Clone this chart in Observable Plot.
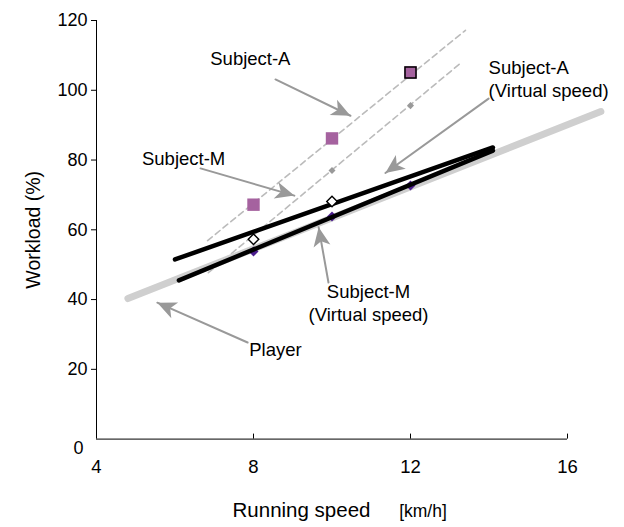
<!DOCTYPE html>
<html>
<head>
<meta charset="utf-8">
<script src="https://cdn.jsdelivr.net/npm/d3@7"></script>
<script src="https://cdn.jsdelivr.net/npm/@observablehq/plot@0.6"></script>
<style>
  body { margin: 0; background: #fff; }
</style>
</head>
<body>
<div id="chart"></div>
<script>
// Measured workload (%) against running speed (km/h)
const subjectASpeeds = [8, 10, 12];
const subjectA = [67.2, 86.2, 105.1];
const subjectAVirtualSpeeds = [10, 12];
const subjectAVirtual = [77.0, 95.6];
const subjectMSpeeds = [8, 10];
const subjectM = [57.3, 68.1];
const subjectMVirtualSpeeds = [8, 10, 12];
const subjectMVirtual = [53.8, 63.8, 72.7];

// Regression lines: [speed, workload] end points
const fitSubjectA = [[6.83, 56.9], [13.4, 117.2]];
const fitSubjectAVirtual = [[6.85, 47.7], [13.3, 108.0]];
const fitPlayer = [[4.8, 40.3], [16.85, 93.9]];
const fitSubjectM = [[6.0, 51.5], [14.1, 83.6]];
const fitSubjectMVirtual = [[6.1, 45.5], [14.1, 82.7]];

// Annotation labels (centred) and the one left-aligned label
const labels = [
  {text: "Subject-A", x: 7.92, y: 109.4},
  {text: "Subject-M", x: 6.22, y: 80.7},
  {text: "Subject-M\n(Virtual speed)", x: 10.93, y: 39.2},
  {text: "Player", x: 8.56, y: 26.0}
];
const labelsLeft = [
  {text: "Subject-A\n(Virtual speed)", x: 13.99, y: 103.4}
];
const pointers = [
  {id: "A", from: [8.56, 103.1], to: [10.47, 92.7]},
  {id: "M", from: [6.65, 77.6], to: [9.04, 69.8]},
  {id: "AV", from: [13.99, 97.6], to: [11.36, 76.3]},
  {id: "MV", from: [9.91, 44.9], to: [9.66, 60.7]},
  {id: "P", from: [7.85, 27.7], to: [5.55, 39.1]}
];

const yTicks = [20, 40, 60, 80, 100, 120];
const xTicks = [4, 8, 12, 16];

const toPoints = (xs, ys) => xs.map((x, i) => ({x, y: ys[i]}));
const toLine = (pts) => pts.map(([x, y]) => ({x, y}));
const pointerPts = pointers.flatMap((p) => [
  {id: p.id, x: p.from[0], y: p.from[1]},
  {id: p.id, x: p.to[0], y: p.to[1]}
]);

// Filled arrowhead with a notched back
function stealth(color, context) {
  const ns = "http://www.w3.org/2000/svg";
  const m = context.document.createElementNS(ns, "marker");
  m.setAttribute("viewBox", "-20 -10 22 20");
  m.setAttribute("refX", "0");
  m.setAttribute("refY", "0");
  m.setAttribute("markerWidth", "22");
  m.setAttribute("markerHeight", "20");
  m.setAttribute("markerUnits", "userSpaceOnUse");
  m.setAttribute("orient", "auto");
  const p = context.document.createElementNS(ns, "path");
  p.setAttribute("d", "M0,0L-19,-8.5L-14,0L-19,8.5Z");
  p.setAttribute("fill", color);
  p.setAttribute("stroke", "none");
  m.appendChild(p);
  return m;
}

const font = "'Liberation Sans', Arial, Helvetica, sans-serif";
const pointColor = "#a5629f";
const diamondColor = "#4a1d8c";

const chart = Plot.plot({
  width: 624,
  height: 527,
  marginLeft: 96,
  marginRight: 57,
  marginTop: 20,
  marginBottom: 88.4,
  x: {domain: [4, 16]},
  y: {domain: [0, 120]},
  style: {fontFamily: font, fontSize: "18px", color: "#000", background: "#fff"},
  marks: [
    // dashed fits for Subject-A
    Plot.line(toLine(fitSubjectA), {x: "x", y: "y", stroke: "#bbb", strokeWidth: 1.6, strokeDasharray: "6,4"}),
    Plot.line(toLine(fitSubjectAVirtual), {x: "x", y: "y", stroke: "#bbb", strokeWidth: 1.6, strokeDasharray: "6,4"}),
    // player fit
    Plot.line(toLine(fitPlayer), {x: "x", y: "y", stroke: "#cfcfcf", strokeWidth: 7}),
    // points
    Plot.dot(toPoints(subjectAVirtualSpeeds, subjectAVirtual), {x: "x", y: "y", symbol: "square", rotate: 45, r: 2.8, fill: "#999", stroke: "none"}),
    Plot.dot(toPoints(subjectMVirtualSpeeds, subjectMVirtual), {x: "x", y: "y", symbol: "square", rotate: 45, r: 4, fill: diamondColor, stroke: "none"}),
    Plot.dot(toPoints(subjectASpeeds, subjectA), {x: "x", y: "y", symbol: "square", r: 7, fill: pointColor, stroke: "none"}),
    Plot.dot(toPoints(subjectASpeeds, subjectA).filter((d) => d.x === 12), {x: "x", y: "y", symbol: "square", r: 6.2, fill: pointColor, stroke: "#000", strokeWidth: 1.5}),
    // Subject-M fits
    Plot.line(toLine(fitSubjectM), {x: "x", y: "y", stroke: "#000", strokeWidth: 4.5}),
    Plot.line(toLine(fitSubjectMVirtual), {x: "x", y: "y", stroke: "#000", strokeWidth: 4.5}),
    Plot.dot(toPoints(subjectMSpeeds, subjectM), {x: "x", y: "y", symbol: "square", rotate: 45, r: 4.2, fill: "#fff", stroke: "#000", strokeWidth: 1.4}),
    // axes
    Plot.ruleX([4], {stroke: "#000", strokeWidth: 1}),
    Plot.ruleY([0], {stroke: "#000", strokeWidth: 1}),
    Plot.axisY({ticks: yTicks, tickSize: 5, tickPadding: 4, fontSize: 18, label: null}),
    Plot.text([0], {x: 4, y: (d) => d, text: (d) => String(d), textAnchor: "end", dx: -13, dy: 9, fontSize: 18}),
    Plot.axisX({ticks: [8, 12, 16], tickSize: -5, tickFormat: () => "", label: null}),
    Plot.axisX({ticks: xTicks, tickSize: 0, tickPadding: 21, fontSize: 18.5, label: null}),
    Plot.text(["Workload (%)"], {frameAnchor: "left", dx: -63, rotate: -90, textAnchor: "middle", lineAnchor: "middle", fontSize: 19.5}),
    Plot.text(["Running speed"], {frameAnchor: "bottom", dx: -30.5, dy: 78, fontSize: 20.5}),
    Plot.text(["[km/h]"], {frameAnchor: "bottom", dx: 91, dy: 78, fontSize: 17.5}),
    // annotations
    Plot.line(pointerPts, {x: "x", y: "y", z: "id", stroke: "#999", strokeWidth: 2, markerEnd: stealth}),
    Plot.text(labels, {x: "x", y: "y", text: "text", textAnchor: "middle", fontSize: 18.5, lineHeight: 1.2}),
    Plot.text(labelsLeft, {x: "x", y: "y", text: "text", textAnchor: "start", fontSize: 18.5, lineHeight: 1.2})
  ]
});

document.getElementById("chart").appendChild(chart);
</script>
</body>
</html>
